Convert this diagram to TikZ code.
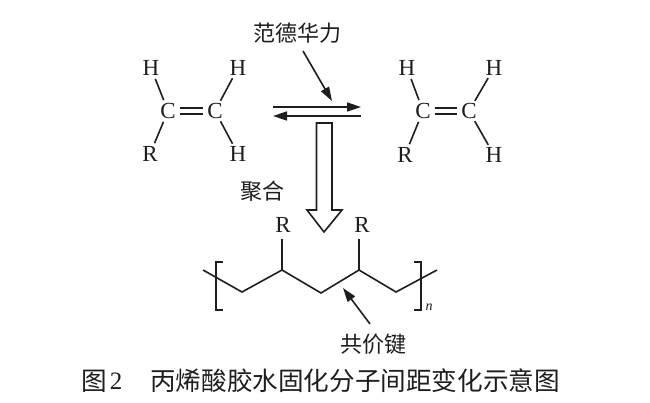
\documentclass[tikz,border=0pt]{standalone}
\usepackage{fontspec}
\setmainfont{Liberation Serif}
\newfontfamily\cjk{Noto Sans CJK SC}[Scale=1]
\usetikzlibrary{arrows.meta}
\definecolor{ink}{HTML}{1E1E1E}
\tikzset{
  x=1pt,y=-1pt,
  atom/.style={circle,inner sep=0pt,minimum size=23pt,text=ink,font=\fontsize{23}{23}\selectfont},
  rlabel/.style={inner sep=0pt,text=ink,font=\fontsize{23}{23}\selectfont},
  cn/.style={inner sep=0pt,text=ink,font=\cjk\fontsize{22}{22}\selectfont},
  capt/.style={inner sep=0pt,text=ink,font=\cjk\fontsize{25.6}{26}\selectfont},
  bond/.style={draw=ink,line width=1.6pt},
  harrow/.style={draw=ink,line width=1.6pt,-{Triangle[length=14pt,width=9pt]}},
  hollow/.style={draw=ink,line width=1.6pt,fill=white,line join=miter},
}
\begin{document}
\begin{tikzpicture}
\useasboundingbox (0,0) rectangle (650,402);
\fill[white] (0,0) rectangle (650,402);
% left molecule
\node[atom] (lc1) at (168,111) {C};
\node[atom] (lc2) at (215,111) {C};
\node[atom] (lh1) at (151,68) {H};
\node[atom] (lh2) at (238,68) {H};
\node[atom] (lr)  at (150,154) {R};
\node[atom] (lh3) at (238,154) {H};
\draw[bond] (lc1) -- (lh1);
\draw[bond] (lc2) -- (lh2);
\draw[bond] (lc1) -- (lr);
\draw[bond] (lc2) -- (lh3);
\draw[bond] ([yshift=3pt]lc1.east) -- ([yshift=3pt]lc2.west);
\draw[bond] ([yshift=-3pt]lc1.east) -- ([yshift=-3pt]lc2.west);
% right molecule
\node[atom] (rc1) at (423,111) {C};
\node[atom] (rc2) at (469,111) {C};
\node[atom] (rh1) at (407,68) {H};
\node[atom] (rh2) at (494,68) {H};
\node[atom] (rr)  at (405,155) {R};
\node[atom] (rh3) at (494,155) {H};
\draw[bond] (rc1) -- (rh1);
\draw[bond] (rc2) -- (rh2);
\draw[bond] (rc1) -- (rr);
\draw[bond] (rc2) -- (rh3);
\draw[bond] ([yshift=3pt]rc1.east) -- ([yshift=3pt]rc2.west);
\draw[bond] ([yshift=-3pt]rc1.east) -- ([yshift=-3pt]rc2.west);
% equilibrium arrows
\coordinate (eqa) at (273,107);
\coordinate (eqb) at (361,107);
\coordinate (eqc) at (361,116);
\coordinate (eqd) at (273,116);
\draw[harrow] (eqa) -- (eqb);
\draw[harrow] (eqc) -- (eqd);
% van der Waals label
\node[cn] (vdw) at (297.5,33) {范德华力};
\coordinate (vdwtail) at (303,51);
\coordinate (vdwtip) at (332,101);
\draw[harrow] (vdwtail) -- (vdwtip);
% hollow arrow
\draw[hollow] (316.5,123) -- (332,123) -- (332,210) -- (342,210) -- (324,232) -- (307,210) -- (316.5,210) -- cycle;
\node[cn] (poly) at (262,191) {聚合};
% polymer
\coordinate (p0) at (203,270);
\coordinate (p1) at (242,292);
\coordinate (p2) at (282,270);
\coordinate (p3) at (321,293);
\coordinate (p4) at (359,270);
\coordinate (p5) at (396,292);
\coordinate (p6) at (437,270);
\draw[bond,line join=miter] (p0) -- (p1) -- (p2) -- (p3) -- (p4) -- (p5) -- (p6);
\node[rlabel] (r1) at (283,225) {R};
\node[rlabel] (r2) at (362,225) {R};
\coordinate (s1) at (282,239);
\coordinate (s2) at (359,239);
\draw[bond] (s1) -- (p2);
\draw[bond] (s2) -- (p4);
\draw[bond] (223,262) -- (216,262) -- (216,310) -- (223,310);
\draw[bond] (414,262) -- (421,262) -- (421,310) -- (414,310);
\node[inner sep=0pt,text=ink,font=\itshape\fontsize{14}{14}\selectfont] (nn) at (429,307) {n};
% covalent bond label
\node[cn] (cov) at (373.5,344) {共价键};
\coordinate (covtail) at (370,324);
\coordinate (covtip) at (343,288);
\draw[harrow] (covtail) -- (covtip);
% caption
\node[capt] (cap1) at (94,381) {图};
\node[inner sep=0pt,text=ink,font=\fontsize{25}{25}\selectfont] (cap2) at (116,381) {2};
\node[capt,anchor=west] (cap3) at (150,381) {丙烯酸胶水固化分子间距变化示意图};
\end{tikzpicture}
\end{document}
